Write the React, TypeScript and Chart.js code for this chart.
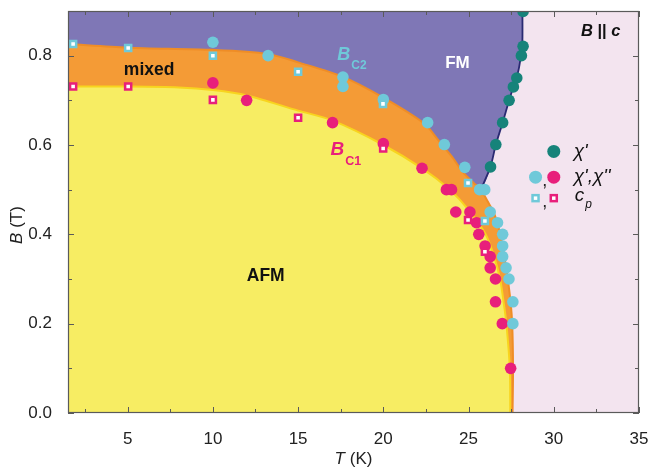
import React, { useEffect, useRef } from 'react';
import { Chart, registerables } from 'chart.js';

Chart.register(...registerables);

// ---- Phase boundaries (T in K, B in T) ----
const BC2_T = [1.5, 5, 10, 13.2, 15, 17.6, 20, 22.4, 23.2, 24.0, 24.7, 25.3, 25.72, 26.1, 26.5, 26.85, 27.1, 27.3, 27.46, 27.56, 27.61, 27.58];
const BC2_B = [0.826, 0.818, 0.813, 0.804, 0.785, 0.753, 0.706, 0.648, 0.612, 0.575, 0.538, 0.515, 0.5, 0.475, 0.447, 0.402, 0.35, 0.3, 0.25, 0.2, 0.1, 0.0];

const BC1_T = [1.5, 5, 8, 10, 12, 15, 17, 20, 22.3, 23.9, 25.0, 26.0, 26.5, 26.85, 27.05, 27.22, 27.42, 27.45];
const BC1_B = [0.731, 0.731, 0.729, 0.723, 0.711, 0.677, 0.655, 0.6, 0.547, 0.5, 0.455, 0.4, 0.35, 0.3, 0.25, 0.2, 0.1, 0.0];

const FM_T = [25.72, 26.29, 26.6, 27.0, 27.38, 27.63, 27.83, 28.08, 28.16, 28.16];
const FM_B = [0.5, 0.551, 0.601, 0.65, 0.7, 0.73, 0.75, 0.8, 0.835, 0.9];

// ---- Measured points ----
const CHI1_T = [26.29, 26.6, 27.0, 27.38, 27.63, 27.83, 28.1, 28.2, 28.2];
const CHI1_B = [0.551, 0.601, 0.65, 0.7, 0.73, 0.75, 0.8, 0.821, 0.899];

const CHI_CYAN_T = [10.0, 13.24, 17.63, 17.63, 20.0, 22.6, 23.58, 24.78, 25.65, 25.95, 26.27, 26.7, 27.0, 27.0, 27.0, 27.2, 27.37, 27.6, 27.6];
const CHI_CYAN_B = [0.83, 0.8, 0.752, 0.731, 0.702, 0.65, 0.601, 0.55, 0.5, 0.5, 0.45, 0.426, 0.4, 0.374, 0.35, 0.325, 0.3, 0.249, 0.2];

const CHI_MAG_T = [10.0, 11.98, 17.02, 20.0, 22.27, 23.7, 24.0, 24.25, 25.08, 25.47, 25.6, 25.97, 26.27, 26.27, 26.58, 26.58, 26.98, 27.47];
const CHI_MAG_B = [0.739, 0.7, 0.65, 0.603, 0.548, 0.5, 0.5, 0.45, 0.45, 0.426, 0.4, 0.374, 0.35, 0.325, 0.3, 0.249, 0.2, 0.1];

const CP_CYAN_T = [1.8, 5.03, 10.0, 15.0, 19.98, 24.97, 25.96];
const CP_CYAN_B = [0.826, 0.817, 0.8, 0.764, 0.692, 0.515, 0.43];

const CP_MAG_T = [1.8, 5.03, 10.0, 15.0, 19.99, 24.97, 25.96];
const CP_MAG_B = [0.731, 0.731, 0.701, 0.661, 0.592, 0.432, 0.361];

// ---- Axis ticks ----
const X_TICKS = [2.5, 5, 7.5, 10, 12.5, 15, 17.5, 20, 22.5, 25, 27.5, 30, 32.5, 35];
const X_LABELS = [5, 10, 15, 20, 25, 30, 35];
const Y_TICKS = [0, 0.1, 0.2, 0.3, 0.4, 0.5, 0.6, 0.7, 0.8];
const Y_LABELS = [0, 0.2, 0.4, 0.6, 0.8];

const FONT = '"Liberation Sans", Arial, Helvetica, sans-serif';
const PURPLE = '#7F77B6';
const PINK = '#F3E4EF';
const ORANGE = '#F49B36';
const ORANGE_EDGE = '#EF8D26';
const YELLOW = '#F7ED63';
const YELLOW_EDGE = '#F8D41E';
const TEAL = '#16837A';
const CYAN = '#6FC9D9';
const MAGENTA = '#E81F7B';
const NAVY = '#2A2A72';
const AXIS = '#5A5A5A';

const pts = (t: number[], b: number[]) => t.map((x, i) => ({ x, y: b[i] }));
const near = (arr: number[], v: number) => arr.some((a) => Math.abs(a - v) < 1e-6);

type Run = { text: string; font: string; color: string; dy?: number; gap?: number };

function drawRich(ctx: CanvasRenderingContext2D, runs: Run[], x: number, y: number, align: 'left' | 'center' | 'right') {
  let w = 0;
  runs.forEach((r) => {
    ctx.font = r.font;
    w += ctx.measureText(r.text).width + (r.gap || 0);
  });
  let cx = align === 'center' ? x - w / 2 : align === 'right' ? x - w : x;
  ctx.textAlign = 'left';
  ctx.textBaseline = 'middle';
  runs.forEach((r) => {
    ctx.font = r.font;
    ctx.fillStyle = r.color;
    cx += r.gap || 0;
    ctx.fillText(r.text, cx, y + (r.dy || 0));
    cx += ctx.measureText(r.text).width;
  });
}

const phasePlugin = {
  id: 'phasePlugin',
  beforeDatasetsDraw(chart: any) {
    const { ctx, chartArea: a } = chart;
    ctx.save();
    ctx.fillStyle = PINK;
    ctx.fillRect(a.left, a.top, a.right - a.left, a.bottom - a.top);
    ctx.restore();
  },
  afterDatasetsDraw(chart: any) {
    const { ctx, chartArea: a } = chart;
    const xs = chart.scales.x;
    const ys = chart.scales.y;
    const X = (v: number) => xs.getPixelForValue(v);
    const Y = (v: number) => ys.getPixelForValue(v);
    ctx.save();

    // inside tick marks on all four sides
    ctx.strokeStyle = AXIS;
    ctx.lineWidth = 1;
    ctx.beginPath();
    X_TICKS.forEach((v) => {
      const px = Math.round(X(v)) + 0.5;
      const len = near(X_LABELS, v) ? 6 : 4;
      ctx.moveTo(px, a.bottom);
      ctx.lineTo(px, a.bottom - len);
      ctx.moveTo(px, a.top);
      ctx.lineTo(px, a.top + len);
    });
    Y_TICKS.forEach((v) => {
      const py = Math.round(Y(v)) + 0.5;
      const len = near(Y_LABELS, v) ? 6 : 4;
      ctx.moveTo(a.left, py);
      ctx.lineTo(a.left + len, py);
      ctx.moveTo(a.right, py);
      ctx.lineTo(a.right - len, py);
    });
    ctx.stroke();
    ctx.lineWidth = 1.2;
    ctx.strokeRect(a.left + 0.5, a.top + 0.5, a.right - a.left - 1, a.bottom - a.top - 1);

    // region labels
    const bold = (s: number) => `bold ${s}px ${FONT}`;
    const boldIt = (s: number) => `italic bold ${s}px ${FONT}`;
    const it = (s: number) => `italic ${s}px ${FONT}`;
    drawRich(ctx, [{ text: 'FM', font: bold(17), color: '#FFFFFF' }], X(24.35), Y(0.784), 'center');
    drawRich(ctx, [{ text: 'mixed', font: bold(17.5), color: '#111111' }], X(6.26), Y(0.768), 'center');
    drawRich(ctx, [{ text: 'AFM', font: bold(17.5), color: '#111111' }], X(13.1), Y(0.307), 'center');
    drawRich(
      ctx,
      [
        { text: 'B', font: boldIt(16.5), color: '#111111' },
        { text: ' || ', font: bold(16.5), color: '#111111' },
        { text: 'c', font: boldIt(16.5), color: '#111111' },
      ],
      X(32.75),
      Y(0.855),
      'center'
    );
    drawRich(
      ctx,
      [
        { text: 'B', font: boldIt(18), color: CYAN },
        { text: 'C2', font: bold(12), color: CYAN, dy: 10, gap: 1 },
      ],
      X(17.3),
      Y(0.8006),
      'left'
    );
    drawRich(
      ctx,
      [
        { text: 'B', font: boldIt(19), color: MAGENTA },
        { text: 'C1', font: bold(12.5), color: MAGENTA, dy: 11, gap: 1 },
      ],
      X(16.9),
      Y(0.5885),
      'left'
    );

    // legend
    const circle = (cx: number, cy: number, r: number, color: string) => {
      ctx.beginPath();
      ctx.fillStyle = color;
      ctx.arc(cx, cy, r, 0, Math.PI * 2);
      ctx.fill();
    };
    const square = (cx: number, cy: number, color: string) => {
      ctx.fillStyle = '#FFFFFF';
      ctx.fillRect(cx - 3, cy - 3, 6, 6);
      ctx.strokeStyle = color;
      ctx.lineWidth = 2.5;
      ctx.strokeRect(cx - 3, cy - 3, 6, 6);
    };
    const lx1 = X(28.93);
    const lx2 = X(30.0);
    const tx = X(31.17);
    const r1 = Y(0.5856);
    const r2 = Y(0.528);
    const r3 = Y(0.481);
    circle(lx2, r1, 6.5, TEAL);
    circle(lx1, r2, 6.5, CYAN);
    circle(lx2, r2, 6.5, MAGENTA);
    square(lx1, r3, CYAN);
    square(lx2, r3, MAGENTA);
    ctx.font = `18px ${FONT}`;
    ctx.fillStyle = '#222222';
    ctx.textAlign = 'center';
    ctx.textBaseline = 'middle';
    ctx.fillText(',', (lx1 + lx2) / 2, r2 + 4);
    ctx.fillText(',', (lx1 + lx2) / 2, r3 + 4);
    drawRich(ctx, [{ text: "\u03C7'", font: it(19), color: '#111111' }], tx, r1, 'left');
    drawRich(ctx, [{ text: "\u03C7',\u03C7''", font: it(19), color: '#111111' }], tx, r2, 'left');
    drawRich(
      ctx,
      [
        { text: 'c', font: it(19), color: '#111111', dy: -2 },
        { text: 'p', font: it(12), color: '#111111', dy: 7, gap: 1 },
      ],
      tx + 1,
      r3,
      'left'
    );

    // axis titles
    drawRich(
      ctx,
      [
        { text: 'T', font: it(17), color: '#222222' },
        { text: ' (K)', font: `17px ${FONT}`, color: '#222222' },
      ],
      (a.left + a.right) / 2,
      459,
      'center'
    );
    ctx.save();
    ctx.translate(17, 225);
    ctx.rotate(-Math.PI / 2);
    drawRich(
      ctx,
      [
        { text: 'B', font: it(17), color: '#222222' },
        { text: ' (T)', font: `17px ${FONT}`, color: '#222222' },
      ],
      0,
      0,
      'center'
    );
    ctx.restore();

    ctx.restore();
  },
};

export default function App() {
  const canvasRef = useRef<HTMLCanvasElement | null>(null);

  useEffect(() => {
    const canvas = canvasRef.current;
    if (!canvas) return;

    const bc2 = pts(BC2_T, BC2_B);
    const bc1 = pts(BC1_T, BC1_B);
    const fm = pts(FM_T, FM_B);
    const junction = BC2_T.indexOf(FM_T[0]);
    const purple = bc2.slice(0, junction).concat(fm);

    const scatterBase = { type: 'scatter', borderWidth: 0, clip: 0, pointHoverRadius: 0 };

    const chart = new Chart(canvas, {
      type: 'scatter',
      data: {
        datasets: [
          {
            type: 'line',
            label: 'FM region',
            data: purple,
            fill: 'end',
            backgroundColor: PURPLE,
            borderColor: PURPLE,
            borderWidth: 0,
            pointRadius: 0,
            tension: 0.3,
            order: 6,
          },
          {
            type: 'line',
            label: 'Bc2',
            data: bc2,
            fill: 'origin',
            backgroundColor: ORANGE,
            borderColor: ORANGE_EDGE,
            borderWidth: 2,
            pointRadius: 0,
            tension: 0.3,
            order: 5,
          },
          {
            type: 'line',
            label: 'Bc1',
            data: bc1,
            fill: 'origin',
            backgroundColor: YELLOW,
            borderColor: YELLOW_EDGE,
            borderWidth: 2,
            pointRadius: 0,
            tension: 0.3,
            order: 4,
          },
          {
            type: 'line',
            label: 'FM boundary',
            data: fm,
            fill: false,
            borderColor: NAVY,
            borderWidth: 1.8,
            pointRadius: 0,
            tension: 0.2,
            order: 3,
          },
          {
            ...scatterBase,
            label: "chi'",
            data: pts(CHI1_T, CHI1_B),
            backgroundColor: TEAL,
            pointStyle: 'circle',
            pointRadius: 5.8,
            order: 2,
          },
          {
            ...scatterBase,
            label: "chi' cyan",
            data: pts(CHI_CYAN_T, CHI_CYAN_B),
            backgroundColor: CYAN,
            pointStyle: 'circle',
            pointRadius: 5.8,
            order: 2,
          },
          {
            ...scatterBase,
            label: "chi' magenta",
            data: pts(CHI_MAG_T, CHI_MAG_B),
            backgroundColor: MAGENTA,
            pointStyle: 'circle',
            pointRadius: 5.8,
            order: 2,
          },
          {
            ...scatterBase,
            label: 'cp cyan',
            data: pts(CP_CYAN_T, CP_CYAN_B),
            backgroundColor: '#FFFFFF',
            borderColor: CYAN,
            borderWidth: 2.5,
            pointStyle: 'rect',
            pointRadius: 4.3,
            order: 1,
          },
          {
            ...scatterBase,
            label: 'cp magenta',
            data: pts(CP_MAG_T, CP_MAG_B),
            backgroundColor: '#FFFFFF',
            borderColor: MAGENTA,
            borderWidth: 2.5,
            pointStyle: 'rect',
            pointRadius: 4.3,
            order: 1,
          },
        ] as any,
      },
      options: {
        responsive: false,
        animation: false,
        devicePixelRatio: 1,
        events: [],
        layout: { padding: { top: 11, right: 11, left: 0, bottom: 0 } },
        plugins: { legend: { display: false }, tooltip: { enabled: false } },
        scales: {
          x: {
            type: 'linear',
            min: 1.5,
            max: 35,
            grid: { display: false },
            border: { display: false },
            afterBuildTicks: (s: any) => {
              s.ticks = X_TICKS.map((v) => ({ value: v }));
            },
            afterFit: (s: any) => {
              s.height = 54;
              s.paddingLeft = 0;
              s.paddingRight = 0;
            },
            ticks: {
              autoSkip: false,
              maxRotation: 0,
              padding: 8,
              color: '#222222',
              font: { family: FONT, size: 17 },
              callback: (v: any) => (near(X_LABELS, Number(v)) ? String(v) : ''),
            },
          },
          y: {
            type: 'linear',
            min: 0,
            max: 0.9,
            grid: { display: false },
            border: { display: false },
            afterBuildTicks: (s: any) => {
              s.ticks = Y_TICKS.map((v) => ({ value: v }));
            },
            afterFit: (s: any) => {
              s.width = 68;
              s.paddingTop = 0;
              s.paddingBottom = 0;
            },
            ticks: {
              autoSkip: false,
              padding: 8,
              color: '#222222',
              font: { family: FONT, size: 17 },
              callback: (v: any) => (near(Y_LABELS, Number(v)) ? Number(v).toFixed(1) : ''),
            },
          },
        },
      } as any,
      plugins: [phasePlugin],
    });

    return () => chart.destroy();
  }, []);

  return (
    <div style={{ position: 'absolute', left: 0, top: 0, width: 650, height: 467, background: '#FFFFFF' }}>
      <canvas ref={canvasRef} width={650} height={467} style={{ display: 'block', width: 650, height: 467 }} />
    </div>
  );
}
